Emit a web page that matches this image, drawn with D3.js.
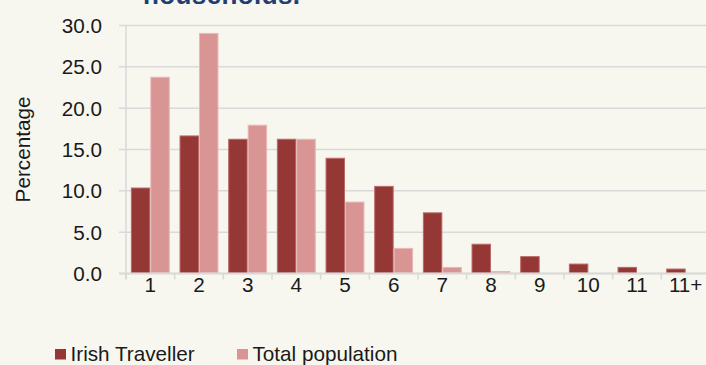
<!DOCTYPE html>
<html><head><meta charset="utf-8">
<script src="https://cdn.jsdelivr.net/npm/d3@7"></script>
<style>body{margin:0;background:#f7f7f0;}svg{display:block;}</style>
</head><body>
<svg id="c" width="706" height="365"></svg>
<script>
const categories = ["1","2","3","4","5","6","7","8","9","10","11","11+"];
const irishTraveller = [10.4,16.7,16.3,16.3,14.0,10.6,7.4,3.6,2.1,1.2,0.8,0.6];
const totalPopulation = [23.8,29.1,18.0,16.3,8.7,3.1,0.8,0.3,0.1,0.05,0.02,0.01];
const yTicks = [0,5,10,15,20,25,30];
const seriesNames = ["Irish Traveller","Total population"];
const colors = ["#953735","#d99594"];
const strokes = ["#b86a68","#e8b8b6"];

const svg = d3.select("#c");
svg.append("rect").attr("width",706).attr("height",365).attr("fill","#f7f7f0");
const font = "Arial, 'Liberation Sans', sans-serif";
const fs = 20.7;

const x = d3.scaleBand().domain(categories).range([126,710]).paddingInner(0.2).paddingOuter(0.1);
const y = d3.scaleLinear().domain([0,30]).range([273.5,25.5]);
const x1 = d3.scaleBand().domain([0,1]).range([0,x.bandwidth()]);

// gridlines
svg.append("g").selectAll("line").data(yTicks).join("line")
  .attr("x1",119).attr("x2",706).attr("y1",d=>y(d)).attr("y2",d=>y(d))
  .attr("stroke","#d9d9d9").attr("stroke-width",1.5);

// y axis line
svg.append("line").attr("x1",126).attr("x2",126).attr("y1",y(30)).attr("y2",y(0)+6)
  .attr("stroke","#d9d9d9").attr("stroke-width",1.5);

// x ticks
const xTickPos = categories.map(c => x(c) - x.step()*x.paddingInner()/2);
svg.append("g").selectAll("line").data(xTickPos).join("line")
  .attr("x1",d=>d).attr("x2",d=>d).attr("y1",y(0)).attr("y2",y(0)+6)
  .attr("stroke","#d9d9d9").attr("stroke-width",1.5);

// y tick labels
svg.append("g").selectAll("text").data(yTicks).join("text")
  .attr("x",102).attr("y",d=>y(d)).attr("dy","0.36em").attr("text-anchor","end")
  .attr("font-family",font).attr("font-size",fs).attr("fill","#1a1a1a")
  .text(d=>d3.format(".1f")(d));

// bars
const data = [irishTraveller,totalPopulation];
data.forEach((vals,si)=>{
  svg.append("g").selectAll("rect").data(vals).join("rect")
    .attr("x",(d,i)=>x(categories[i])+x1(si)+0.5)
    .attr("y",d=>y(d)+0.5)
    .attr("width",x1.bandwidth()-1)
    .attr("height",d=>Math.max(0,y(0)-y(d)-1))
    .attr("fill",colors[si]).attr("stroke",strokes[si]).attr("stroke-width",1);
});

// baseline
svg.append("line").attr("x1",119).attr("x2",706).attr("y1",y(0)).attr("y2",y(0))
  .attr("stroke","#d9d9d9").attr("stroke-width",2);

// x labels
svg.append("g").selectAll("text").data(categories).join("text")
  .attr("x",d=>x(d)+x.bandwidth()/2).attr("y",292)
  .attr("text-anchor","middle").attr("font-family",font).attr("font-size",fs).attr("fill","#1a1a1a")
  .text(d=>d);

// y axis title
svg.append("text").attr("transform","translate(30,149.5) rotate(-90)")
  .attr("text-anchor","middle").attr("font-family",font).attr("font-size",fs).attr("fill","#1a1a1a")
  .text("Percentage");

// title (cropped at top, as in the reference)
svg.append("text").attr("x",143).attr("y",4).attr("font-family",font).attr("font-size",26)
  .attr("font-weight","bold").attr("fill","#1f3f73").attr("textLength",157).text("households.");

// legend
const legX = [55,237];
seriesNames.forEach((n,i)=>{
  svg.append("rect").attr("x",legX[i]).attr("y",349).attr("width",11).attr("height",10.5).attr("fill",colors[i]);
  svg.append("text").attr("x",legX[i]+15.5).attr("y",361).attr("font-family",font).attr("font-size",fs)
    .attr("fill","#1a1a1a").text(n);
});
</script>
</body></html>
